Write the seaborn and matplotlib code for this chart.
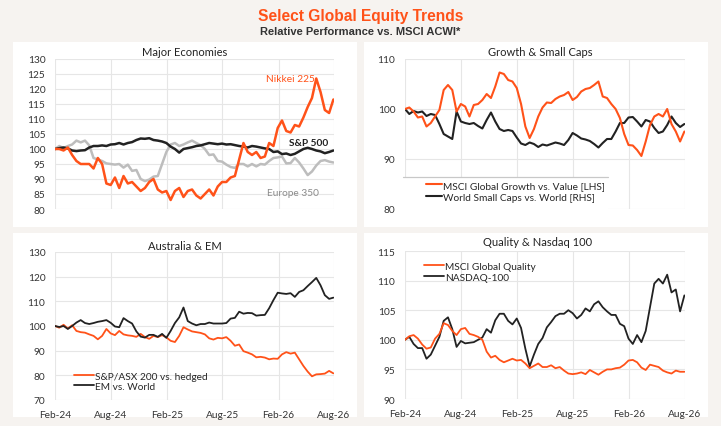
import pandas as pd
import seaborn as sns
import matplotlib.pyplot as plt
import matplotlib.dates as mdates
from matplotlib.patches import Rectangle

# biweekly observations, Feb-24 to Aug-26
dates = pd.date_range('2024-02-01', periods=66, freq='14D')

nikkei = [100, 100, 99.5, 100.5, 98, 96, 95, 95, 95, 93.5, 97, 95, 88.5, 88, 90.5, 87, 91, 88.5, 89, 87.5,
          86, 87, 89, 90, 86.5, 85.5, 86, 83, 86, 87, 84, 86, 86.5, 84.5, 83.5, 85, 86.5, 84.5, 87.5, 89,
          89, 90.5, 91, 96.5, 102, 99, 98, 99, 97, 97.5, 102, 101, 107, 109.5, 106, 105.5, 108, 107.5, 110.5, 114,
          117, 123.5, 119, 113, 112, 116.5]
sp500 = [100, 100.3, 100.5, 100.2, 99.5, 99.3, 99.5, 99.6, 100.5, 101, 101, 101.2, 101, 101.5, 101.6, 102, 101.5, 102, 102.3, 103,
         103.5, 103.4, 103.6, 103, 102.8, 102.5, 102, 100.8, 100, 98.8, 100, 100.3, 100.6, 101, 101.2, 101.6, 102, 101.8, 101.6, 101.8,
         101.5, 101.6, 101.3, 101, 100.8, 100.5, 101, 100.8, 100.5, 100.2, 100, 99, 99.2, 98.3, 98.5, 98, 98.4, 99.2, 100, 100.4,
         100, 99.5, 99.2, 98.6, 99, 99.5]
europe = [100, 101, 100.3, 101, 101.5, 102.8, 102.2, 102.8, 101.2, 97, 96.5, 96, 95.2, 95, 94.8, 95, 93.8, 94.8, 92.7, 93,
          90, 89.3, 89.8, 90.8, 91, 95, 99, 101.5, 102, 101, 101.5, 102.2, 102.8, 102, 101.3, 100, 98, 98.2, 96, 95.8,
          94.8, 94, 93.7, 95, 95, 94.2, 95, 94.2, 95, 94.8, 96, 97, 97.2, 97.5, 95.2, 95.3, 97, 95.5, 93.5, 91.3,
          92.5, 94.5, 96, 96.3, 95.8, 95.5]

growth = [100, 100.3, 99.5, 98.3, 98.5, 96.5, 97.2, 98.5, 99.8, 103.8, 104.8, 103.8, 99.5, 101, 100.5, 98.5, 100.8, 101, 101.8, 103,
          102.2, 104.5, 107.3, 107, 105.8, 105.5, 104.2, 101, 96.5, 94.2, 96, 98.5, 100.3, 101.3, 101.2, 102, 102.5, 102.8, 103.4, 101.8,
          102.4, 103.5, 104, 104.2, 104.8, 105.5, 102.5, 102.2, 101, 100, 98.2, 95, 92.8, 92.7, 91.8, 90.6, 93.5, 96.8, 98.5, 99,
          98.5, 100, 97, 95.5, 93.5, 95.5]
small_caps = [100, 99, 99.6, 99.3, 99.5, 98.6, 99, 98.8, 97, 95, 94.5, 94, 99.5, 97.5, 97.2, 97, 97.2, 96.6, 96.1, 97.8,
              99.3, 97.5, 96, 95.6, 95.8, 95.6, 94.3, 93.1, 92.8, 93.3, 93, 92.4, 92.9, 92.7, 93, 93.3, 93.1, 92.8, 93.8, 95.2,
              94.7, 94.1, 93.9, 93.6, 93, 92.3, 93.2, 94, 94, 95.5, 97.2, 97.2, 98.3, 98.4, 97.5, 96.5, 97.8, 97.5, 96.2, 95.2,
              95.5, 96.8, 98.5, 97.2, 96.4, 97]

asx = [100, 99.3, 100.5, 99, 100.3, 98, 97.5, 97.3, 96.6, 96, 94.6, 96, 98.8, 97, 96.3, 98, 96.6, 96.2, 96, 95.6,
       96.8, 95.5, 94.8, 96, 95.5, 96.3, 95.4, 94, 93.5, 96, 99.5, 98.6, 97.8, 97.5, 97.2, 96.6, 95, 94.5, 95.2, 95,
       95.5, 94, 92, 92.5, 89.8, 89.2, 88.5, 87.3, 87.5, 87.2, 86.5, 86.8, 86.7, 88.5, 89.4, 88.8, 89.2, 86.5, 83.8, 81.5,
       79.6, 80.4, 80.5, 80.7, 81.8, 80.8]
em = [100, 99.6, 100, 98.8, 100, 101.4, 102.4, 101.2, 100.8, 101.2, 101.7, 102, 102.4, 101.3, 99.8, 99.5, 103.2, 102, 101, 97.8,
      95.7, 95.3, 96.4, 96.4, 95.6, 96.8, 95.2, 98, 101.2, 103.5, 107.5, 102, 101, 100.3, 100.8, 100.8, 101.4, 101, 101, 101,
      101.2, 103, 103.3, 105.8, 105, 105.3, 105.2, 104.2, 104.4, 104.5, 107.2, 110.5, 113.5, 113.2, 113, 113.3, 111.8, 113.8, 114.5, 116.2,
      117.8, 119.5, 116.5, 112.5, 111, 111.5]

quality = [100, 100.6, 100.8, 100.2, 99.2, 98.5, 98.7, 100.2, 101, 102.8, 102.5, 101.5, 100.8, 101.8, 102, 101, 100.8, 100.5, 100, 98,
           97, 97.3, 96.6, 96.2, 96.5, 96.8, 96.5, 96.6, 96, 95.2, 95.6, 96, 95.4, 95.4, 95.7, 95.2, 95.4, 94.8, 94.3, 94.2,
           94.3, 94.5, 94.2, 94.9, 94.5, 94.1, 94.6, 95, 95, 95.2, 95.3, 95.8, 96.5, 96.6, 96.2, 95.3, 94.9, 95.8, 95.6, 95.4,
           94.8, 94.5, 94.3, 94.8, 94.6, 94.6]
nasdaq = [100, 100.5, 99.3, 98.6, 98.6, 96.8, 97.5, 99, 100.5, 103.2, 103.8, 101.8, 98.8, 99.8, 99.4, 99.5, 99.6, 100, 100.4, 101.8,
          101.2, 103.3, 104.4, 104.4, 103.2, 102.6, 103.6, 102, 98.5, 95.5, 97.5, 99.3, 100.3, 102.1, 103, 104, 104.4, 104.4, 105, 104.5,
          103.6, 104.2, 105.3, 104.8, 106, 106.5, 105.5, 104.8, 104.2, 104.2, 102.7, 102.3, 100.2, 99.3, 100.8, 99.6, 101.5, 105.5, 109.5, 110.3,
          109.5, 111, 108, 108.5, 104.8, 107.5]

tick_dates = pd.to_datetime(['2024-02-01', '2024-08-01', '2025-02-01', '2025-08-01', '2026-02-01', '2026-08-01'])

ORANGE = '#ff5219'
DARK = '#222222'
GREY = '#bdbdbd'
BG = '#f6f3f0'

sns.set_style('white')
plt.rcParams['font.family'] = ['Lato', 'DejaVu Sans']

fig = plt.figure(figsize=(7.21, 4.27), dpi=100, facecolor=BG)
W, H = 721, 427

# white panel boxes
for x0, y0, x1, y1 in [(13, 43, 357, 228), (364, 43, 708, 228), (13, 234, 357, 418), (364, 234, 708, 418)]:
    fig.patches.append(Rectangle((x0 / W, 1 - y1 / H), (x1 - x0) / W, (y1 - y0) / H,
                                 transform=fig.transFigure, facecolor='white', edgecolor='none', zorder=-5))


def make_ax(x0, y0, x1, y1):
    ax = fig.add_axes([x0 / W, 1 - y1 / H, (x1 - x0) / W, (y1 - y0) / H])
    ax.set_facecolor('none')
    return ax


def style_ax(ax):
    for s in ax.spines.values():
        s.set_visible(False)
    ax.grid(True, color='#e6e6e6', lw=0.8)
    ax.set_axisbelow(True)
    ax.set_xlim(tick_dates[0], tick_dates[-1])
    ax.set_xticks(tick_dates)
    ax.xaxis.set_major_formatter(mdates.DateFormatter('%b-%y'))
    ax.tick_params(length=0, labelsize=7.3, colors='#333333', pad=7)
    ax.set_xlabel('')
    ax.set_ylabel('')


ax1 = make_ax(55, 60, 334, 210)
ax2 = make_ax(405, 60, 685, 210)
ax3 = make_ax(55, 253, 334, 401)
ax4 = make_ax(405, 252, 685, 400)

# Major Economies
sns.lineplot(x=dates, y=europe, ax=ax1, color=GREY, lw=1.8)
sns.lineplot(x=dates, y=sp500, ax=ax1, color=DARK, lw=1.8)
sns.lineplot(x=dates, y=nikkei, ax=ax1, color=ORANGE, lw=1.8)
style_ax(ax1)
ax1.set_ylim(80, 130)
ax1.set_yticks(range(80, 131, 5))
ax1.tick_params(axis='x', labelbottom=False)
ax1.text(0.93, 0.873, 'Nikkei 225', transform=ax1.transAxes, color=ORANGE, fontsize=7.3, ha='right', va='center')
ax1.text(0.978, 0.44, 'S&P 500', transform=ax1.transAxes, color=DARK, fontsize=7.3, fontweight='bold', ha='right', va='center')
ax1.text(0.946, 0.113, 'Europe 350', transform=ax1.transAxes, color='#8a8a8a', fontsize=7.3, ha='right', va='center')

# Growth & Small Caps
sns.lineplot(x=dates, y=small_caps, ax=ax2, color=DARK, lw=1.5, label='World Small Caps vs. World [RHS]')
sns.lineplot(x=dates, y=growth, ax=ax2, color=ORANGE, lw=1.5, label='MSCI Global Growth vs. Value [LHS]')
style_ax(ax2)
ax2.set_ylim(80, 110)
ax2.set_yticks([80, 90, 100, 110])
ax2.tick_params(axis='x', labelbottom=False)
ax2.add_patch(Rectangle((-0.007, 0.003), 0.732, 0.21, transform=ax2.transAxes, facecolor='white',
                        edgecolor='none', zorder=4, clip_on=False))
ax2.plot([-0.007, 0.725], [0.213, 0.213], transform=ax2.transAxes, color='#c8c8c8', lw=0.9, clip_on=False, zorder=6)
h, l = ax2.get_legend_handles_labels()
ax2.legend(h[::-1], l[::-1], loc='lower left', bbox_to_anchor=(0.06, 0.02), borderaxespad=0, fontsize=7.3,
           frameon=False, handlelength=1.6, handletextpad=0.1, labelspacing=0.3)

# Australia & EM
sns.lineplot(x=dates, y=asx, ax=ax3, color=ORANGE, lw=1.3, label='S&P/ASX 200 vs. hedged')
sns.lineplot(x=dates, y=em, ax=ax3, color=DARK, lw=1.3, label='EM vs. World')
style_ax(ax3)
ax3.set_ylim(70, 130)
ax3.set_yticks(range(70, 131, 10))
ax3.legend(loc='lower left', bbox_to_anchor=(0.055, 0.035), fontsize=7.3, frameon=False, handlelength=1.9,
           handletextpad=0.1, labelspacing=0.1, borderaxespad=0)

# Quality & Nasdaq 100
sns.lineplot(x=dates, y=nasdaq, ax=ax4, color=DARK, lw=1.3, label='NASDAQ-100')
sns.lineplot(x=dates, y=quality, ax=ax4, color=ORANGE, lw=1.3, label='MSCI Global Quality')
style_ax(ax4)
ax4.set_ylim(90, 115)
ax4.set_yticks(range(90, 116, 5))
h, l = ax4.get_legend_handles_labels()
ax4.legend(h[::-1], l[::-1], loc='upper left', bbox_to_anchor=(0.055, 0.955), fontsize=7.3, frameon=False,
           handlelength=1.9, handletextpad=0.1, labelspacing=0.2, borderaxespad=0)

# panel titles
for x, y, t in [(185, 53, 'Major Economies'), (540, 53, 'Growth & Small Caps'),
                (185, 247, 'Australia & EM'), (538, 243, 'Quality & Nasdaq 100')]:
    fig.text(x / W, 1 - y / H, t, ha='center', va='center', fontsize=8, color='#222222')

fig.text(0.5, 1 - 17 / H, 'Select Global Equity Trends', ha='center', va='center', fontsize=11.2,
         fontweight='bold', color=ORANGE, family=['Liberation Sans', 'DejaVu Sans'])
fig.text(0.5, 1 - 32 / H, 'Relative Performance vs. MSCI ACWI*', ha='center', va='center', fontsize=8,
         fontweight='bold', color='#333333', family=['Liberation Sans', 'DejaVu Sans'])

fig.savefig('out.png', dpi=100, facecolor=BG)
